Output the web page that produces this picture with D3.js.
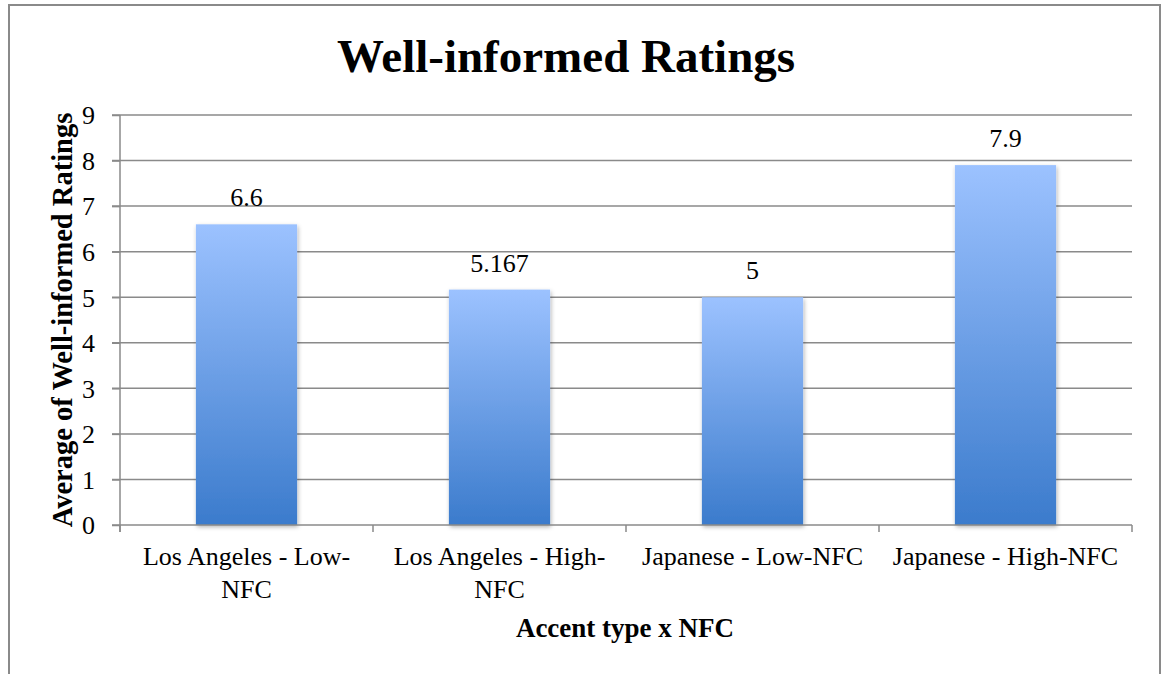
<!DOCTYPE html>
<meta charset="utf-8">
<style>
body { margin: 0; background: #fff; }
text { font-family: "Liberation Serif", "Times New Roman", serif; fill: #000; }
.grid line { stroke: #8a8a8a; stroke-width: 1.5px; }
.axis line, .axis path { stroke: #8a8a8a; stroke-width: 1.5px; fill: none; }
.tick-label { font-size: 26px; font-family: "Liberation Serif", serif; }
.value { font-size: 26px; }
.title { font-size: 47px; font-weight: bold; }
.axis-title { font-size: 27px; font-weight: bold; }
.y-title { font-size: 28.5px; }
</style>
<svg width="1163" height="674"></svg>
<script src="https://d3js.org/d3.v7.min.js"></script>
<script>

// data
var categories = ["Los Angeles - Low-NFC", "Los Angeles - High-NFC", "Japanese - Low-NFC", "Japanese - High-NFC"];
var categoryLines = [["Los Angeles - Low-", "NFC"], ["Los Angeles - High-", "NFC"], ["Japanese - Low-NFC"], ["Japanese - High-NFC"]];
var values = [6.6, 5.167, 5, 7.9];
var valueLabels = ["6.6", "5.167", "5", "7.9"];
var yTicks = [0, 1, 2, 3, 4, 5, 6, 7, 8, 9];

var svg = d3.select("svg"),
    margin = {top: 115, right: 31, bottom: 149, left: 120},
    width = +svg.attr("width"),
    height = +svg.attr("height");

var x = d3.scaleBand()
    .domain(categories)
    .range([margin.left, width - margin.right])
    .paddingInner(0.6)
    .paddingOuter(0.3);

var y = d3.scaleLinear()
    .domain([0, 9])
    .range([height - margin.bottom, margin.top]);

var defs = svg.append("defs");
var grad = defs.append("linearGradient")
    .attr("id", "barGrad")
    .attr("x1", 0).attr("y1", 0).attr("x2", 0).attr("y2", 1);
grad.append("stop").attr("offset", "0%").attr("stop-color", "#9cc2ff");
grad.append("stop").attr("offset", "100%").attr("stop-color", "#3b7bcc");

var shadow = defs.append("filter")
    .attr("id", "shadow")
    .attr("x", "-20%").attr("y", "-20%").attr("width", "140%").attr("height", "140%");
shadow.append("feDropShadow")
    .attr("dx", 1).attr("dy", 2)
    .attr("stdDeviation", 2)
    .attr("flood-color", "#000")
    .attr("flood-opacity", 0.3);

// chart frame
svg.append("rect")
    .attr("x", 9).attr("y", 5)
    .attr("width", 1151).attr("height", 720)
    .attr("fill", "none")
    .attr("stroke", "#8a8a8a")
    .attr("stroke-width", 2);

// gridlines
svg.append("g")
    .attr("class", "grid")
  .selectAll("line")
  .data(yTicks.slice(1))
  .enter().append("line")
    .attr("x1", margin.left - 8)
    .attr("x2", width - margin.right)
    .attr("y1", function(d) { return y(d); })
    .attr("y2", function(d) { return y(d); });

// bars
svg.append("g")
  .selectAll("rect")
  .data(values)
  .enter().append("rect")
    .attr("x", function(d, i) { return x(categories[i]); })
    .attr("y", function(d) { return y(d); })
    .attr("width", x.bandwidth())
    .attr("height", function(d) { return y(0) - y(d); })
    .attr("fill", "url(#barGrad)")
    .attr("filter", "url(#shadow)");

// value labels
svg.append("g")
  .selectAll("text")
  .data(values)
  .enter().append("text")
    .attr("class", "value")
    .attr("x", function(d, i) { return x(categories[i]) + x.bandwidth() / 2; })
    .attr("y", function(d) { return y(d) - 18; })
    .attr("text-anchor", "middle")
    .text(function(d, i) { return valueLabels[i]; });

// y axis
var yAxis = svg.append("g")
    .attr("class", "axis")
    .attr("transform", "translate(" + margin.left + ",0)")
    .call(d3.axisLeft(y).tickValues(yTicks).tickSize(8).tickSizeOuter(0).tickPadding(17));
yAxis.attr("font-size", null).attr("font-family", null);
yAxis.select(".domain").attr("d", "M0," + y(9) + "V" + (y(0) + 7));
yAxis.selectAll(".tick text")
    .attr("class", "tick-label")
    .attr("dy", "0.34em");

// x axis: line plus ticks at category boundaries
var xAxis = svg.append("g").attr("class", "axis");
xAxis.append("line")
    .attr("x1", margin.left - 8)
    .attr("x2", width - margin.right)
    .attr("y1", y(0)).attr("y2", y(0));
xAxis.selectAll(".xt")
  .data(d3.range(categories.length + 1))
  .enter().append("line")
    .attr("class", "xt")
    .attr("x1", function(i) { return margin.left + i * x.step(); })
    .attr("x2", function(i) { return margin.left + i * x.step(); })
    .attr("y1", y(0)).attr("y2", y(0) + 7);

var catLabel = svg.append("g")
  .selectAll("text")
  .data(categoryLines)
  .enter().append("text")
    .attr("class", "tick-label")
    .attr("text-anchor", "middle")
    .attr("transform", function(d, i) { return "translate(" + (x(categories[i]) + x.bandwidth() / 2) + "," + (y(0) + 40) + ")"; });
catLabel.selectAll("tspan")
  .data(function(d) { return d; })
  .enter().append("tspan")
    .attr("x", 0)
    .attr("y", function(d, i) { return i * 33; })
    .text(function(d) { return d; });

// titles
svg.append("text")
    .attr("class", "title")
    .attr("x", 566).attr("y", 72)
    .attr("text-anchor", "middle")
    .text("Well-informed Ratings");

svg.append("text")
    .attr("class", "axis-title")
    .attr("x", 625).attr("y", 637)
    .attr("text-anchor", "middle")
    .text("Accent type x NFC");

svg.append("text")
    .attr("class", "axis-title y-title")
    .attr("transform", "translate(72," + (y(4.5)) + ") rotate(-90)")
    .attr("text-anchor", "middle")
    .text("Average of Well-informed Ratings");

</script>
